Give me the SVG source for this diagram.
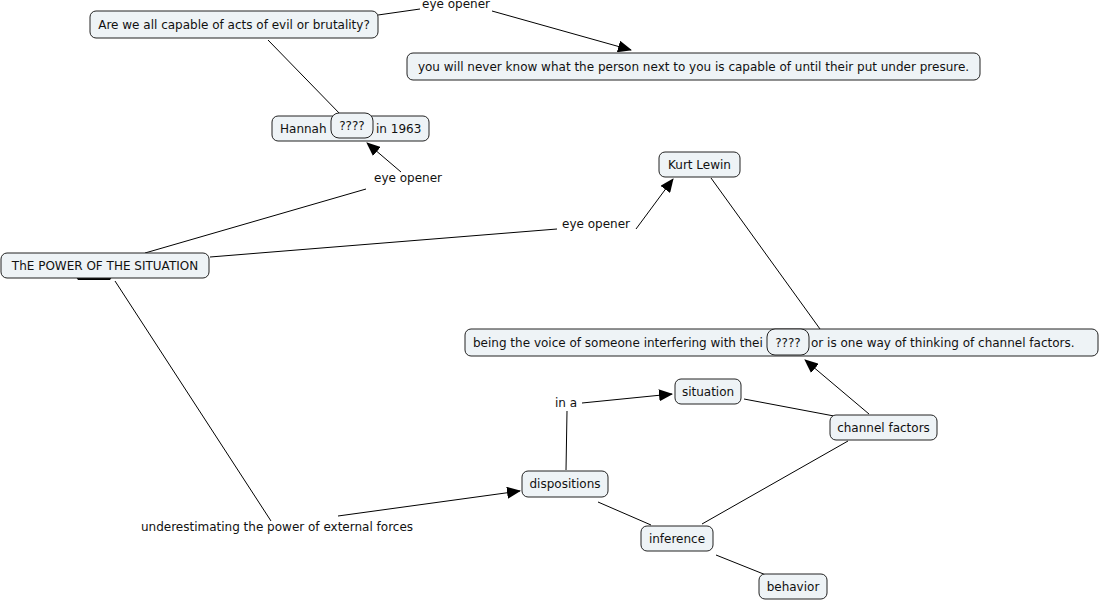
<svg xmlns="http://www.w3.org/2000/svg" width="1101" height="601" viewBox="0 0 1101 601">
<defs>
<marker id="ah" markerWidth="14" markerHeight="12" refX="13" refY="6" orient="auto" markerUnits="userSpaceOnUse">
<path d="M0,0 L14,6 L0,12 Z" fill="#000"/>
</marker>
<style>
.n rect{fill:#eef3f6;stroke:#222;stroke-width:1}
text{font-family:"DejaVu Sans",Verdana,sans-serif;font-size:12px;fill:#111}
.c text{text-anchor:middle}
.n text{text-anchor:middle}
.n text.l{text-anchor:start}
.n text.r{text-anchor:end}
.e line{stroke:#000;stroke-width:1;fill:none}
.a{marker-end:url(#ah)}
</style>
</defs>
<rect width="1101" height="601" fill="#fff"/>
<g class="e" id="connectors">
<line x1="378" y1="15" x2="420" y2="9"/>
<line class="a" x1="492" y1="11" x2="631" y2="50"/>
<line x1="268" y1="40" x2="342" y2="116"/>
<line x1="145" y1="253" x2="366" y2="189"/>
<line class="a" x1="401" y1="172" x2="367" y2="143"/>
<line x1="210" y1="257" x2="557" y2="229"/>
<line class="a" x1="636" y1="229" x2="673" y2="179"/>
<line x1="711" y1="178" x2="820" y2="329"/>
<line class="a" x1="869" y1="414" x2="805" y2="360"/>
<line x1="744" y1="399" x2="834" y2="416"/>
<line x1="848" y1="441" x2="702" y2="524"/>
<line x1="598" y1="502" x2="651" y2="525"/>
<line x1="716" y1="555" x2="766" y2="575"/>
<line x1="115" y1="281" x2="271" y2="521"/>
<line class="a" x1="338" y1="516" x2="520" y2="491"/>
<line x1="566" y1="470" x2="567" y2="411"/>
<line class="a" x1="582" y1="403" x2="672" y2="394"/>
<path d="M76,277 L112,277 L110,280 L78,280 Z" fill="#000" stroke="none"/>
<g class="c">
<text x="456" y="8">eye opener</text>
<text x="408" y="182">eye opener</text>
<text x="596" y="228">eye opener</text>
<text x="277" y="531">underestimating the power of external forces</text>
<text x="566" y="407">in a</text>
</g>
</g>
<g class="n" id="n-evil"><rect x="90" y="11" width="288" height="27" rx="6"/><text x="234" y="29">Are we all capable of acts of evil or brutality?</text></g>
<g class="n" id="n-never"><rect x="407" y="53" width="573" height="27" rx="6"/><text x="693.5" y="71">you will never know what the person next to you is capable of until their put under presure.</text></g>
<g class="n" id="n-hannah"><rect x="272" y="116" width="157" height="25" rx="6"/><text class="l" x="280" y="133">Hannah</text><text class="l" x="376" y="133">in 1963</text></g>
<g class="n" id="n-q1"><rect x="331" y="113" width="42" height="25" rx="8"/><text x="352" y="130">????</text></g>
<g class="n" id="n-kurt"><rect x="659" y="152" width="81" height="25" rx="6"/><text x="699.5" y="169">Kurt Lewin</text></g>
<g class="n" id="n-power"><rect x="1" y="253" width="208" height="25" rx="6"/><text x="105" y="270">ThE POWER OF THE SITUATION</text></g>
<g class="n" id="n-voice"><rect x="465" y="329" width="633" height="27" rx="6"/><text class="l" x="473" y="347">being the voice of someone interfering with thei</text><text class="l" x="811" y="347">or is one way of thinking of channel factors.</text></g>
<g class="n" id="n-q2"><rect x="767" y="329" width="42" height="26" rx="8"/><text x="788" y="347">????</text></g>
<g class="n" id="n-situation"><rect x="675" y="379" width="66" height="25" rx="6"/><text x="708" y="396">situation</text></g>
<g class="n" id="n-channel"><rect x="830" y="415" width="107" height="25" rx="6"/><text x="883.5" y="432">channel factors</text></g>
<g class="n" id="n-disp"><rect x="522" y="471" width="86" height="26" rx="6"/><text x="565" y="488">dispositions</text></g>
<g class="n" id="n-inference"><rect x="641" y="526" width="72" height="25" rx="6"/><text x="677" y="543">inference</text></g>
<g class="n" id="n-behavior"><rect x="759" y="574" width="68" height="25" rx="6"/><text x="793" y="591">behavior</text></g>
</svg>
